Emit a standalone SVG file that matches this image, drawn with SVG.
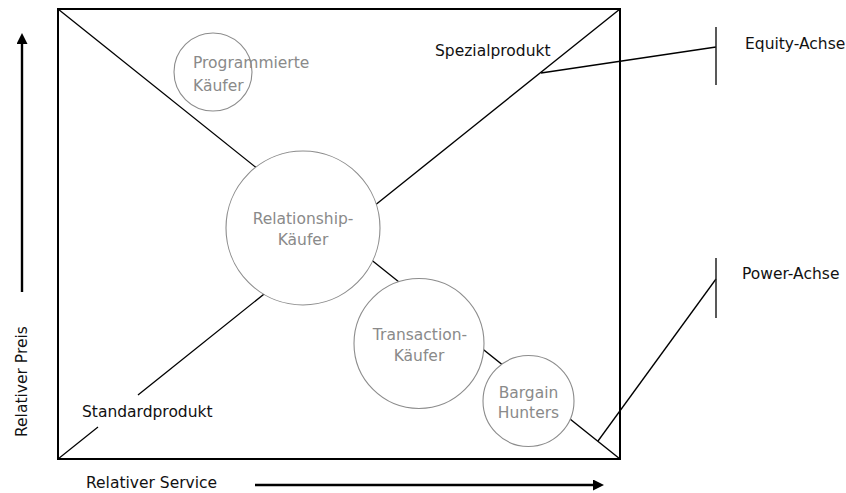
<svg xmlns="http://www.w3.org/2000/svg" width="846" height="493" viewBox="0 0 846 493">
  <style>
    text { font-family: "DejaVu Sans", Verdana, sans-serif; font-size: 15.5px; }
    .lbl { fill: #111; }
    .seg { fill: #8a8a8a; }
    .ln { stroke: #000; stroke-width: 1.3; fill: none; }
    .frame { stroke: #000; stroke-width: 2; fill: none; }
    .bubble { fill: #fff; stroke: #8c8c8c; stroke-width: 1.1; }
    .axis { stroke: #000; stroke-width: 2.4; fill: none; }
    .tick { stroke: #222; stroke-width: 1.5; }
  </style>
  <defs>
    <marker id="head" viewBox="0 0 10 10" refX="0" refY="5" markerWidth="11" markerHeight="11" markerUnits="userSpaceOnUse" orient="auto">
      <path d="M0,0 L10,5 L0,10 z" fill="#000"/>
    </marker>
  </defs>

  <rect width="846" height="493" fill="#fff"/>

  <!-- axes -->
  <g id="axes">
    <line class="axis" x1="22" y1="292" x2="22" y2="44" marker-end="url(#head)"/>
    <line class="axis" x1="255" y1="485" x2="593" y2="485" marker-end="url(#head)"/>
    <text class="lbl" transform="translate(27,437) rotate(-90)">Relativer Preis</text>
    <text class="lbl" x="86" y="488">Relativer Service</text>
  </g>

  <!-- frame and diagonals -->
  <g id="connectors">
    <rect class="frame" x="58" y="9" width="562" height="450"/>
    <line class="ln" x1="58" y1="9" x2="620" y2="459"/>
    <line class="ln" x1="58" y1="459" x2="98" y2="427"/>
    <line class="ln" x1="138" y1="395" x2="620" y2="9"/>
    <polyline class="ln" points="541,73 716,47"/>
    <polyline class="ln" points="598,441 716,279"/>
  </g>

  <g id="standardprodukt">
    <text class="lbl" x="82" y="417">Standardprodukt</text>
  </g>
  <g id="spezialprodukt">
    <text class="lbl" x="435" y="56">Spezialprodukt</text>
  </g>

  <g id="programmierte-kaeufer">
    <circle class="bubble" cx="213" cy="72" r="39"/>
    <text class="seg" x="193" y="68">Programmierte</text>
    <text class="seg" x="193" y="91">Käufer</text>
  </g>

  <g id="relationship-kaeufer">
    <circle class="bubble" cx="303" cy="228" r="77"/>
    <text class="seg" x="303" y="224" text-anchor="middle">Relationship-</text>
    <text class="seg" x="303" y="245" text-anchor="middle">Käufer</text>
  </g>

  <g id="transaction-kaeufer">
    <circle class="bubble" cx="419" cy="343.5" r="65"/>
    <text class="seg" x="420" y="340" text-anchor="middle">Transaction-</text>
    <text class="seg" x="419" y="361" text-anchor="middle">Käufer</text>
  </g>

  <g id="bargain-hunters">
    <circle class="bubble" cx="528.5" cy="401" r="45.5"/>
    <text class="seg" x="528.5" y="398" text-anchor="middle">Bargain</text>
    <text class="seg" x="528.5" y="418" text-anchor="middle">Hunters</text>
  </g>

  <g id="equity-achse">
    <line class="tick" x1="716" y1="27" x2="716" y2="85"/>
    <text class="lbl" x="745" y="49">Equity-Achse</text>
  </g>

  <g id="power-achse">
    <line class="tick" x1="716" y1="258" x2="716" y2="318"/>
    <text class="lbl" x="742" y="279">Power-Achse</text>
  </g>
</svg>
